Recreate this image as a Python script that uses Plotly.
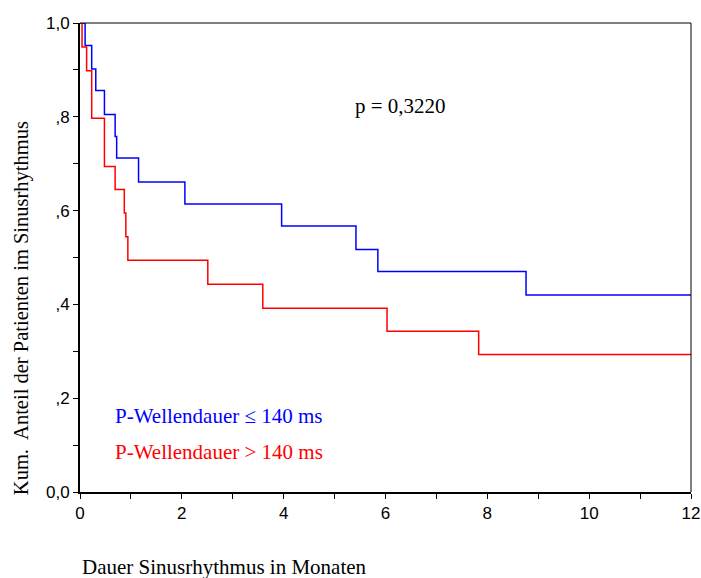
import plotly.graph_objects as go

# Data (months, cumulative proportion)
blue_times = [0.10, 0.23, 0.31, 0.48, 0.69, 0.72, 1.15, 2.06, 3.96, 5.42, 5.85, 8.76]
blue_vals = [0.952, 0.902, 0.856, 0.805, 0.758, 0.712, 0.661, 0.614, 0.567, 0.517, 0.470, 0.420]
red_times = [0.04, 0.13, 0.23, 0.48, 0.69, 0.87, 0.90, 0.94, 2.51, 3.59, 6.03, 7.83]
red_vals = [0.949, 0.898, 0.797, 0.694, 0.645, 0.595, 0.544, 0.494, 0.443, 0.392, 0.343, 0.293]
x_end = 12

x_ticks = [0, 2, 4, 6, 8, 10, 12]
x_ticklabels = ["0", "2", "4", "6", "8", "10", "12"]
y_ticks = [0.0, 0.2, 0.4, 0.6, 0.8, 1.0]
y_ticklabels = ["0,0", ",2", ",4", ",6", ",8", "1,0"]

p_text = "p = 0,3220"
label_blue = "P-Wellendauer ≤ 140 ms"
label_red = "P-Wellendauer > 140 ms"
x_title = "Dauer Sinusrhythmus in Monaten"
y_title = "Kum.  Anteil der Patienten im Sinusrhythmus"

SERIF = "Liberation Serif, Times New Roman, serif"
SANS = "Liberation Sans, Arial, sans-serif"

fig = go.Figure()
fig.add_trace(go.Scatter(
    x=[0] + blue_times + [x_end], y=[1.0] + blue_vals + [blue_vals[-1]],
    mode="lines", line=dict(color="#0000ff", width=1.5, shape="hv"), showlegend=False))
fig.add_trace(go.Scatter(
    x=[0] + red_times + [x_end], y=[1.0] + red_vals + [red_vals[-1]],
    mode="lines", line=dict(color="#ff0000", width=1.5, shape="hv"), showlegend=False))

fig.add_annotation(x=6.29, y=0.823, text=p_text, showarrow=False,
                   font=dict(family=SERIF, size=21, color="black"), xanchor="center", yanchor="middle")
fig.add_annotation(x=0.64, y=0.163, text=label_blue, showarrow=False,
                   font=dict(family=SERIF, size=21, color="#0000ff"), xanchor="left", yanchor="middle")
fig.add_annotation(x=0.64, y=0.085, text=label_red, showarrow=False,
                   font=dict(family=SERIF, size=21, color="#ff0000"), xanchor="left", yanchor="middle")
fig.add_annotation(xref="paper", yref="paper", x=0.0, y=-0.16, text=x_title, showarrow=False,
                   xanchor="left", yanchor="middle",
                   font=dict(family=SERIF, size=21, color="black"))
fig.add_annotation(xref="paper", yref="paper", x=-0.0966, y=0.392, text=y_title, showarrow=False,
                   textangle=-90, xanchor="center", yanchor="middle",
                   font=dict(family=SERIF, size=20.5, color="black"))

# top and right frame lines (thin)
fig.add_shape(type="line", xref="paper", yref="paper", x0=0, x1=1, y0=1, y1=1,
              line=dict(color="black", width=1))
fig.add_shape(type="line", xref="paper", yref="paper", x0=1, x1=1, y0=0, y1=1,
              line=dict(color="black", width=1))

fig.update_xaxes(range=[0, 12], tickvals=x_ticks, ticktext=x_ticklabels, automargin=False,
                 showgrid=False, zeroline=False, showline=True, linecolor="black", linewidth=2,
                 ticks="outside", ticklen=5, tickwidth=1, tickcolor="black",
                 minor=dict(tickvals=[1, 3, 5, 7, 9, 11], ticks="outside", ticklen=5,
                            tickcolor="black", tickwidth=1),
                 tickfont=dict(family=SANS, size=17, color="black"))
fig.update_yaxes(range=[0, 1], tickvals=y_ticks, ticktext=y_ticklabels, automargin=False,
                 showgrid=False, zeroline=False, showline=True, linecolor="black", linewidth=2,
                 ticks="outside", ticklen=5, tickwidth=1, tickcolor="black",
                 minor=dict(tickvals=[0.1, 0.3, 0.5, 0.7, 0.9], ticks="outside", ticklen=5,
                            tickcolor="black", tickwidth=1),
                 tickfont=dict(family=SANS, size=17, color="black"))

fig.update_layout(width=701, height=578, margin=dict(l=80, r=10, t=23, b=86),
                  plot_bgcolor="white", paper_bgcolor="white")

fig.write_html("out.html")
